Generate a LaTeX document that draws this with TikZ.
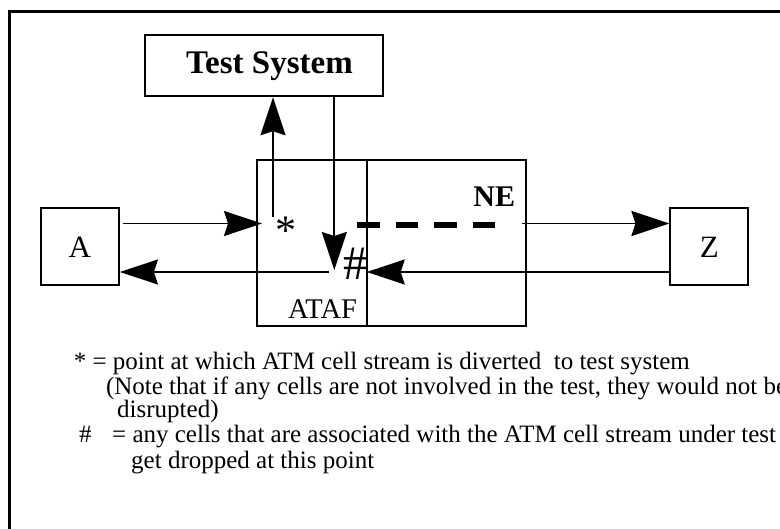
\documentclass[tikz,border=0pt]{standalone}
\usepackage{fontspec}
\setmainfont{Liberation Serif}
\usetikzlibrary{arrows.meta,calc}
\begin{document}
\begin{tikzpicture}[x=1pt,y=-1pt]
\tikzset{
  box/.style={draw, line width=2pt, inner sep=0pt},
  conn/.style={line width=1.9pt},
  arr/.style={line width=1.9pt, -{Stealth[length=38pt,width=25pt,inset=4pt]}},
  lbl/.style={anchor=base, inner sep=0pt},
  body/.style={anchor=base west, inner sep=0pt, font=\fontsize{25}{30}\selectfont},
}
\useasboundingbox (0,0) rectangle (780,529);
\begin{scope}
\clip (0,0) rectangle (780,529);
% outer frame
\draw[line width=2.7pt] (9.5,545) -- (9.5,11.3) -- (795,11.3);
% boxes
\node[box, minimum width=237.8pt, minimum height=61.5pt] (TS) at (263.7,65.5) {};
\node[lbl, font=\bfseries\fontsize{33}{38}\selectfont] (tstext) at (269.5,73.3) {Test System};
\node[box, minimum width=269.2pt, minimum height=165.6pt] (NE) at (391.8,242.8) {};
\coordinate (divtop) at (366.7,160);
\coordinate (divbot) at (366.7,327);
\draw[conn] (divtop) -- (divbot);
\node[box, minimum width=78pt, minimum height=77pt, font=\fontsize{31}{36}\selectfont] (A) at (79.9,247) {A};
\node[box, minimum width=77.7pt, minimum height=77pt, font=\fontsize{31}{36}\selectfont] (Z) at (709.3,247) {Z};
% coordinates
\coordinate (inA) at (262,223.5);
\coordinate (star) at (273,217);
\coordinate (hashin) at (334.3,270);
\coordinate (lowL) at (329,272);
\coordinate (lowR) at (366.7,272);
\coordinate (neout) at (521.7,223.5);
\coordinate (d1) at (357.3,225.5);
\coordinate (d2) at (495,225.5);
% connectors
\draw[arr] ($(A.east |- inA)+(3,0)$) -- (inA);
\draw[arr] (star) -- (star |- TS.south);
\draw[arr] (hashin |- TS.south) -- (hashin);
\draw[arr] (lowL) -- (A.east |- lowL);
\draw[arr] ($(Z.west |- lowR)+(2,0)$) -- (lowR);
\draw[arr] (neout) -- (Z.west |- neout);
\draw[line width=6pt, dash pattern=on 22.5pt off 16pt] (d1) -- (d2);
% labels
\node[lbl, font=\bfseries\fontsize{30}{36}\selectfont] (nel) at (494.2,206.7) {NE};
\node[lbl, font=\fontsize{28.5}{34}\selectfont] (atafl) at (322.5,318.3) {ATAF};
\node[lbl, font=\fontsize{42}{50}\selectfont] (starl) at (285.8,244.8) {*};
\node[lbl, font=\fontsize{48}{56}\selectfont] (hashl) at (355,279.3) {\#};
% legend text
\node[body] (t1) at (73.6,370) {* = point at which ATM cell stream is diverted\ \ to test system};
\node[body] (t2) at (105.8,395) {(Note that if any cells are not involved in the test, they would not be};
\node[body] (t3) at (117,418) {disrupted)};
\node[body] (t4) at (79,443) {\#\hspace{20.5pt}= any cells that are associated with the ATM cell stream under test};
\node[body] (t5) at (131,469) {get dropped at this point};
\end{scope}
\end{tikzpicture}
\end{document}
